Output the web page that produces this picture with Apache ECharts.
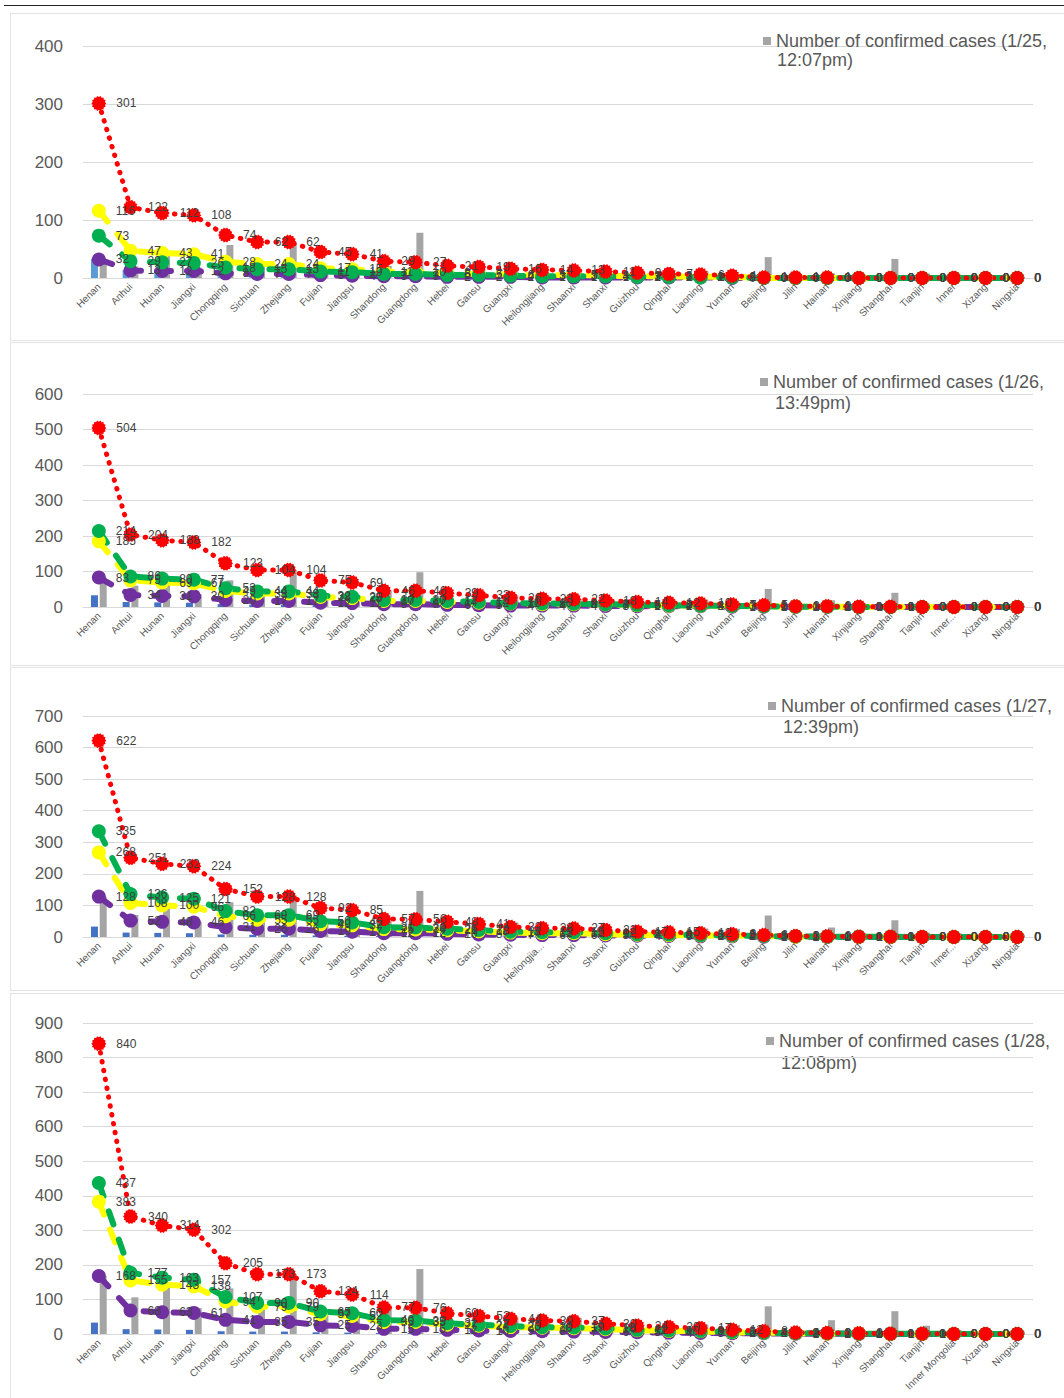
<!DOCTYPE html>
<html>
<head>
<meta charset="utf-8">
<script src="https://cdn.jsdelivr.net/npm/echarts@6/dist/echarts.min.js"></script>
<style>
html, body { margin: 0; padding: 0; background: #fff; width: 1064px; height: 1398px; overflow: hidden; position: relative; }
.topline { position: absolute; left: 4px; top: 5px; width: 1060px; height: 1px; background: #222; }
.panel { position: absolute; left: 10px; width: 1060px; border: 1px solid #e3e3e3; background: #fff; }
</style>
</head>
<body>
<div class="topline"></div>
<div class="panel" id="p1" style="top:13px;height:326px"></div>
<div class="panel" id="p2" style="top:342px;height:322px"></div>
<div class="panel" id="p3" style="top:667px;height:322px"></div>
<div class="panel" id="p4" style="top:993px;height:420px"></div>

<script>
// Categories (provinces, sorted as in the source sheet)
const provinces = ['Henan', 'Anhui', 'Hunan', 'Jiangxi', 'Chongqing', 'Sichuan', 'Zhejiang', 'Fujian', 'Jiangsu', 'Shandong',
  'Guangdong', 'Hebei', 'Gansu', 'Guangxi', 'Heilongjiang', 'Shaanxi', 'Shanxi', 'Guizhou', 'Qinghai', 'Liaoning',
  'Yunnan', 'Beijing', 'Jilin', 'Hainan', 'Xinjiang', 'Shanghai', 'Tianjin', 'Inner Mongolia', 'Xizang', 'Ningxia'];

// Blue bars (same in every panel)
const blueBars = [33, 14, 13, 12, 8, 7, 7, 5, 4, 3, 3, 2, 2, 2, 1, 1, 1, 1, 1, 1, 1, 0, 0, 0, 0, 0, 0, 0, 0, 0];

// Snapshot names
const snapshots = ['1/25, 12:07pm', '1/26, 13:49pm', '1/27, 12:39pm', '1/28, 12:08pm'];

// Gray bars: number of confirmed cases
const gray0125 = [32, 20, 43, 18, 57, 28, 60, 18, 18, 21, 78, 8, 4, 23, 4, 5, 6, 4, 1, 12, 5, 36, 3, 8, 3, 33, 8, 2, 0, 2];
const gray0126 = [83, 60, 69, 36, 75, 44, 104, 35, 33, 46, 98, 13, 7, 33, 15, 22, 9, 5, 1, 21, 11, 51, 4, 19, 4, 40, 10, 7, 0, 4];
const gray0127 = [128, 70, 100, 48, 110, 69, 132, 59, 47, 63, 146, 18, 14, 46, 21, 35, 13, 7, 6, 27, 26, 68, 6, 30, 5, 53, 14, 11, 0, 7];
const gray0128 = [168, 106, 140, 75, 132, 85, 173, 55, 65, 75, 188, 33, 19, 51, 33, 46, 20, 9, 6, 27, 26, 80, 8, 40, 5, 66, 24, 11, 0, 7];

// Red dotted lines
const red0125 = [301, 122, 112, 108, 74, 62, 62, 45, 41, 29, 27, 21, 19, 16, 14, 13, 11, 9, 7, 6, 4, 1, 1, 1, 0, 0, 0, 0, 0, 0];
const red0126 = [504, 204, 188, 182, 123, 104, 104, 75, 69, 46, 46, 39, 33, 26, 23, 22, 18, 14, 12, 10, 7, 5, 2, 2, 1, 1, 0, 0, 0, 0];
const red0127 = [622, 251, 232, 224, 152, 128, 128, 92, 85, 57, 56, 48, 41, 32, 28, 27, 22, 17, 15, 12, 9, 6, 3, 2, 1, 1, 0, 0, 0, 0];
const red0128 = [840, 340, 314, 302, 205, 173, 173, 124, 114, 77, 76, 60, 52, 44, 39, 37, 30, 24, 20, 17, 12, 8, 4, 3, 2, 1, 1, 0, 0, 0];

// Yellow dashed lines
const yellow0125 = [116, 47, 43, 41, 28, 24, 24, 17, 15, 11, 10, 8, 7, 6, 5, 5, 4, 3, 3, 2, 2, 0, 0, 0, 0, 0, 0, 0, 0, 0];
const yellow0126 = [185, 75, 69, 67, 45, 38, 38, 28, 25, 17, 17, 14, 12, 10, 8, 8, 7, 5, 4, 4, 3, 2, 1, 1, 0, 0, 0, 0, 0, 0];
const yellow0127 = [268, 108, 100, 96, 66, 55, 55, 40, 37, 25, 24, 21, 18, 14, 12, 12, 9, 7, 6, 5, 4, 3, 1, 1, 0, 0, 0, 0, 0, 0];
const yellow0128 = [383, 155, 143, 138, 94, 79, 79, 57, 52, 35, 35, 27, 24, 20, 18, 17, 14, 11, 9, 8, 5, 4, 2, 1, 1, 0, 0, 0, 0, 0];

// Green dashed lines
const green0125 = [73, 29, 27, 26, 18, 15, 15, 11, 10, 7, 7, 5, 5, 4, 3, 3, 3, 2, 2, 1, 1, 0, 0, 0, 0, 0, 0, 0, 0, 0];
const green0126 = [214, 86, 80, 77, 53, 44, 44, 32, 29, 20, 20, 17, 14, 11, 10, 9, 8, 6, 5, 4, 3, 2, 1, 1, 0, 0, 0, 0, 0, 0];
const green0127 = [335, 136, 125, 121, 82, 69, 69, 50, 46, 31, 30, 26, 22, 17, 15, 15, 12, 9, 8, 6, 5, 3, 2, 1, 1, 1, 0, 0, 0, 0];
const green0128 = [437, 177, 163, 157, 107, 90, 90, 65, 60, 40, 39, 31, 27, 23, 20, 19, 16, 12, 10, 9, 6, 4, 2, 2, 1, 1, 1, 0, 0, 0];

// Purple dashed lines
const purple0125 = [32, 13, 12, 12, 8, 7, 7, 5, 4, 3, 3, 2, 2, 2, 1, 1, 1, 1, 1, 1, 0, 0, 0, 0, 0, 0, 0, 0, 0, 0];
const purple0126 = [83, 34, 31, 30, 20, 17, 17, 12, 11, 8, 8, 6, 5, 4, 4, 4, 3, 2, 2, 2, 1, 1, 0, 0, 0, 0, 0, 0, 0, 0];
const purple0127 = [128, 52, 48, 46, 31, 26, 26, 19, 17, 12, 12, 10, 8, 7, 6, 6, 5, 4, 3, 2, 2, 1, 1, 0, 0, 0, 0, 0, 0, 0];
const purple0128 = [168, 68, 63, 61, 41, 35, 35, 25, 23, 15, 15, 12, 10, 9, 8, 7, 6, 5, 4, 3, 2, 2, 1, 1, 0, 0, 0, 0, 0, 0];

// Y axis maximum per panel
const yMax = [400, 600, 700, 900];

const FONT = "'Liberation Sans', Arial, sans-serif";

// spiky circle marker, like the Excel one
function spiky() {
  let d = '';
  const n = 14;
  for (let i = 0; i < 2 * n; i++) {
    const r = i % 2 ? 8.3 : 10;
    const a = Math.PI * i / n;
    d += (i ? 'L' : 'M') + (10 + r * Math.cos(a)).toFixed(2) + ' ' + (10 + r * Math.sin(a)).toFixed(2);
  }
  return 'path://' + d + 'Z';
}
const spikySymbol = spiky();

function lineSeries(name, data, color, dash, width, symbol, size) {
  return {
    name: name,
    type: 'line',
    data: data,
    symbol: symbol,
    symbolSize: size,
    showAllSymbol: true,
    itemStyle: { color: color },
    lineStyle: { color: color, width: width, type: dash, cap: 'round', join: 'round' },
    label: { show: true, position: 'right', distance: 10, fontSize: 12, color: '#404040', fontFamily: FONT },
    emphasis: { disabled: true }
  };
}

// layout of each panel (inside the panel box)
const layout = [
  { id: 'p1', gridTop: 32, gridBottom: 62, legLeft: 752, legTop: 17, l2Left: 766, l2Top: 37, blue: '#5b9bd5' },
  { id: 'p2', gridTop: 51, gridBottom: 58, legLeft: 749, legTop: 29, l2Left: 764, l2Top: 51, blue: '#4472c4' },
  { id: 'p3', gridTop: 48, gridBottom: 53, legLeft: 757, legTop: 28, l2Left: 772, l2Top: 50, blue: '#4472c4' },
  { id: 'p4', gridTop: 29, gridBottom: 80, legLeft: 755, legTop: 37, l2Left: 770, l2Top: 60, blue: '#4472c4' }
];

const grayData = [gray0125, gray0126, gray0127, gray0128];
const redData = [red0125, red0126, red0127, red0128];
const yellowData = [yellow0125, yellow0126, yellow0127, yellow0128];
const greenData = [green0125, green0126, green0127, green0128];
const purpleData = [purple0125, purple0126, purple0127, purple0128];

layout.forEach(function (lay, k) {
  var myChart = echarts.init(document.getElementById(lay.id), null, { renderer: 'svg' });
  const grayName = 'Number of confirmed cases (' + snapshots[k] + ')';
  const commaAt = grayName.indexOf(',') + 1;

  var option = {
    animation: false,
    grid: { left: 72, right: 38, top: lay.gridTop, bottom: lay.gridBottom, containLabel: false },
    legend: {
      data: [grayName],
      left: lay.legLeft,
      top: lay.legTop,
      padding: 0,
      icon: 'rect',
      itemWidth: 8,
      itemHeight: 8,
      selectedMode: false,
      formatter: function (n) { return n.slice(0, commaAt); },
      textStyle: { fontSize: 18, color: '#595959', fontFamily: FONT, lineHeight: 20 }
    },
    graphic: [{
      type: 'text',
      left: lay.l2Left,
      top: lay.l2Top,
      style: { text: grayName.slice(commaAt).trim(), fontSize: 18, fontFamily: FONT, fill: '#595959' }
    }],
    xAxis: {
      type: 'category',
      data: provinces,
      axisLine: { lineStyle: { color: '#d9d9d9', width: 1 } },
      axisTick: { show: false },
      axisLabel: {
        rotate: 45,
        interval: 0,
        fontSize: 10,
        margin: 7,
        color: '#595959',
        fontFamily: FONT,
        formatter: function (v) {
          if (v === 'Inner Mongolia') return k === 0 ? 'Inner' : (k === 3 ? v : 'Inner...');
          if (v === 'Heilongjiang' && k === 2) return 'Heilongjia...';
          return v;
        }
      }
    },
    yAxis: {
      type: 'value',
      min: 0,
      max: yMax[k],
      interval: 100,
      axisLine: { show: false },
      axisTick: { show: false },
      splitLine: { lineStyle: { color: '#d9d9d9', width: 1 } },
      axisLabel: { fontSize: 17, color: '#595959', margin: 20, fontFamily: FONT }
    },
    series: [
      { name: 'blue', type: 'bar', data: blueBars, barWidth: 7, barGap: '25%', itemStyle: { color: lay.blue }, emphasis: { disabled: true } },
      { name: grayName, type: 'bar', data: grayData[k], barWidth: 7, barGap: '25%', itemStyle: { color: '#a5a5a5' }, emphasis: { disabled: true } },
      lineSeries('purple', purpleData[k], '#7030a0', [14, 16], 6, 'circle', 14),
      lineSeries('yellow', yellowData[k], '#ffff00', [14, 16], 6, 'circle', 14),
      lineSeries('green', greenData[k], '#00b050', [14, 16], 6, 'circle', 14),
      lineSeries('red', redData[k], '#ff0000', [0.5, 8.5], 5, spikySymbol, 15)
    ]
  };

  option && myChart.setOption(option);
});
</script>
</body>
</html>
